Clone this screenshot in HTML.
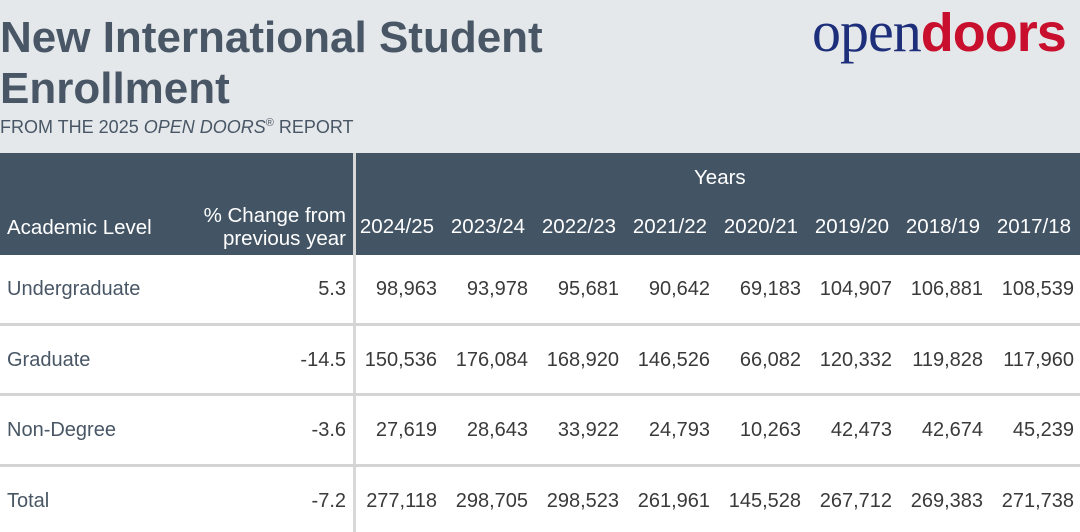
<!DOCTYPE html>
<html><head><style>
body{margin:0;width:1080px;height:532px;overflow:hidden;background:#fff;font-family:"Liberation Sans",Arial,sans-serif;position:relative}
.top{position:absolute;left:0;top:0;width:1080px;height:153px;background:#e5e8eb}
.t{position:absolute;white-space:nowrap}
.title{left:0;font-size:44px;font-weight:bold;color:#485665}
.hdr{position:absolute;left:0;top:153px;width:1080px;height:102px;background:#435464}
.h{color:#fff;font-size:20.5px}
.c{color:#3a3a3a;font-size:20px}
.r{text-align:right}
.line{position:absolute;left:0;width:1080px;height:3px;background:#d4d4d4}
</style></head><body>
<div class="top"></div>
<div class="t title" style="top:13px">New International Student</div>
<div class="t title" style="top:64px">Enrollment</div>
<div class="t" style="left:0;top:117px;font-size:18px;color:#485665">FROM THE 2025 <i>OPEN DOORS</i><sup style="font-size:11px">®</sup> REPORT</div>
<div class="t" style="left:812px;top:-6px;font-size:58px;line-height:76px;color:#1d2f7a;font-family:'Liberation Serif',serif;letter-spacing:-1px">open<span style="font-family:'Liberation Sans',sans-serif;font-weight:bold;color:#c8102e;font-size:54px;letter-spacing:-1px">doors</span></div>
<div class="hdr"></div>
<div style="position:absolute;left:353px;top:153px;width:3px;height:379px;background:#d8d8d8"></div>
<div class="t h" style="left:694px;top:166px">Years</div>
<div class="t h" style="left:7px;top:216px">Academic Level</div>
<div class="t h r" style="right:734px;top:204px;line-height:23px">% Change from<br>previous year</div>
<div class="line" style="top:323px"></div>
<div class="line" style="top:393px"></div>
<div class="line" style="top:464px"></div>
<div id="cells"></div>
<script>
var yrs=["2024/25","2023/24","2022/23","2021/22","2020/21","2019/20","2018/19","2017/18"];
var rows=[["Undergraduate","5.3","98,963","93,978","95,681","90,642","69,183","104,907","106,881","108,539"],
["Graduate","-14.5","150,536","176,084","168,920","146,526","66,082","120,332","119,828","117,960"],
["Non-Degree","-3.6","27,619","28,643","33,922","24,793","10,263","42,473","42,674","45,239"],
["Total","-7.2","277,118","298,705","298,523","261,961","145,528","267,712","269,383","271,738"]];
var h="";
yrs.forEach(function(y,i){h+='<div class="t h r" style="right:'+(1080-(434+91*i))+'px;top:215px">'+y+'</div>';});
rows.forEach(function(r,j){var top=278+70.5*j;
h+='<div class="t c" style="left:7px;top:'+top+'px;color:#485665">'+r[0]+'</div>';
h+='<div class="t c r" style="right:734px;top:'+top+'px">'+r[1]+'</div>';
for(var i=0;i<8;i++)h+='<div class="t c r" style="right:'+(1080-(437+91*i))+'px;top:'+top+'px">'+r[i+2]+'</div>';});
document.getElementById("cells").innerHTML=h;
</script>
</body></html>
